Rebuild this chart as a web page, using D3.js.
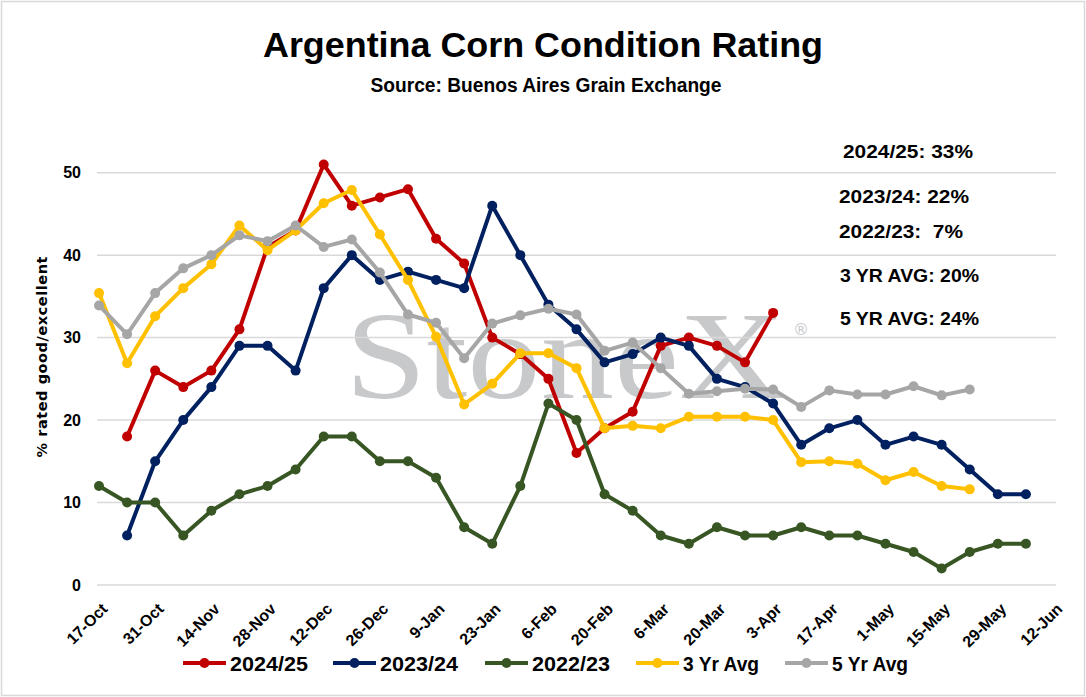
<!DOCTYPE html>
<html>
<head>
<meta charset="utf-8">
<script src="https://cdn.jsdelivr.net/npm/d3@7"></script>
<style>
  body { margin: 0; background: #fff; }
  svg { display: block; }
</style>
</head>
<body>
<div id="chart"></div>
<script>
// weekly report dates (17-Oct through 5-Jun)
var weeks = ["2024-10-17","2024-10-24","2024-10-31","2024-11-07","2024-11-14","2024-11-21",
  "2024-11-28","2024-12-05","2024-12-12","2024-12-19","2024-12-26","2025-01-02","2025-01-09",
  "2025-01-16","2025-01-23","2025-01-30","2025-02-06","2025-02-13","2025-02-20","2025-02-27",
  "2025-03-06","2025-03-13","2025-03-20","2025-03-27","2025-04-03","2025-04-10","2025-04-17",
  "2025-04-24","2025-05-01","2025-05-08","2025-05-15","2025-05-22","2025-05-29","2025-06-05"];

var s2425 = [null,18,26,24,26,31,41,43,51,46,47,48,42,39,30,28,25,16,19,21,29,30,29,27,33];
var s2324 = [null,6,15,20,24,29,29,26,36,40,37,38,37,36,46,40,34,31,27,28,30,29,25,24,22,17,19,20,17,18,17,14,11,11];
var s2223 = [12,10,10,6,9,11,12,14,18,18,15,15,13,7,5,12,22,20,11,9,6,5,7,6,6,7,6,6,5,4,2,4,5,5];
var avg3 = [35.4,26.9,32.6,36.0,38.9,43.6,40.6,43.0,46.3,47.9,42.5,37.0,30.1,21.9,24.4,28.1,28.1,26.3,
  19.0,19.3,19.0,20.4,20.4,20.4,20.0,14.9,15.0,14.7,12.7,13.7,12.0,11.6];
var avg5 = [33.9,30.4,35.4,38.4,40.0,42.4,41.7,43.6,41.0,41.9,37.9,32.8,31.8,27.5,31.7,32.7,33.5,32.8,
  28.4,29.4,26.3,23.2,23.5,23.8,23.7,21.6,23.6,23.1,23.1,24.1,23.0,23.7];

var seriesNames = ["2024/25","2023/24","2022/23","3 Yr Avg","5 Yr Avg"];
var seriesColors = ["#c00000","#002060","#375623","#ffc000","#a6a6a6"];
var seriesValues = [s2425, s2324, s2223, avg3, avg5];

var yTicks = [0,10,20,30,40,50];
var xTickLabels = ["17-Oct","31-Oct","14-Nov","28-Nov","12-Dec","26-Dec","9-Jan","23-Jan","6-Feb",
  "20-Feb","6-Mar","20-Mar","3-Apr","17-Apr","1-May","15-May","29-May","12-Jun"];
var xTickDates = ["2024-10-17","2024-10-31","2024-11-14","2024-11-28","2024-12-12","2024-12-26",
  "2025-01-09","2025-01-23","2025-02-06","2025-02-20","2025-03-06","2025-03-20","2025-04-03",
  "2025-04-17","2025-05-01","2025-05-15","2025-05-29","2025-06-12"];

var notes = ["2024/25: 33%","2023/24: 22%","2022/23:  7%","3 YR AVG: 20%","5 YR AVG: 24%"];

var svgWidth = 1086, svgHeight = 697;
var narrow = "'Liberation Sans', Arial, sans-serif";
var wide = "'DejaVu Sans', Verdana, sans-serif";

var parse = d3.timeParse("%Y-%m-%d");

var svg = d3.select("#chart").append("svg")
  .attr("width", svgWidth)
  .attr("height", svgHeight);

// chart border
svg.append("rect")
  .attr("x", 1.5).attr("y", 1.5)
  .attr("width", svgWidth - 3).attr("height", svgHeight - 3)
  .attr("fill", "#fff")
  .attr("stroke", "#d9d9d9")
  .attr("stroke-width", 1.5);

var x = d3.scaleTime()
  .domain([parse("2024-10-17"), parse("2025-06-12")])
  .range([99, 1054]);

var y = d3.scaleLinear()
  .domain([0, 50])
  .range([585, 172.7]);

// watermark
svg.append("text")
  .attr("x", 345).attr("y", 398)
  .attr("font-family", "'Liberation Serif', 'Times New Roman', serif")
  .attr("font-size", 124)
  .attr("fill", "#c8c9cb")
  .attr("textLength", 440)
  .attr("lengthAdjust", "spacingAndGlyphs")
  .text("StoneX");
svg.append("text")
  .attr("x", 793).attr("y", 335)
  .attr("font-family", "'DejaVu Sans', sans-serif")
  .attr("font-size", 16)
  .attr("fill", "#c8c9cb")
  .text("®");

// gridlines
svg.append("g")
  .selectAll("line")
  .data(yTicks)
  .enter()
  .append("line")
  .attr("x1", 97).attr("x2", 1056)
  .attr("y1", d => y(d)).attr("y2", d => y(d))
  .attr("stroke", "#d9d9d9")
  .attr("stroke-width", 1.5);

// y axis
var yAxis = d3.axisLeft(y).tickValues(yTicks).tickSize(0).tickPadding(0);
svg.append("g")
  .attr("transform", "translate(81,0)")
  .call(yAxis)
  .call(g => g.select(".domain").remove())
  .selectAll("text")
  .attr("font-family", narrow)
  .attr("font-weight", "bold")
  .attr("font-size", 16)
  .attr("fill", "#000");

// x axis labels
var xAxis = d3.axisBottom(x)
  .tickValues(xTickDates.map(parse))
  .tickFormat((d, i) => xTickLabels[i])
  .tickSize(0);
svg.append("g")
  .call(xAxis)
  .call(g => g.select(".domain").remove())
  .selectAll("text")
  .attr("font-family", narrow)
  .attr("font-weight", "bold")
  .attr("font-size", 16)
  .attr("fill", "#000")
  .attr("text-anchor", "end")
  .attr("dy", 0)
  .attr("y", 0)
  .attr("transform", "translate(9,610) rotate(-45)");

// y axis title
svg.append("text")
  .attr("transform", "translate(47,357) rotate(-90)")
  .attr("text-anchor", "middle")
  .attr("font-family", wide)
  .attr("font-weight", "bold")
  .attr("font-size", 14.5)
  .attr("textLength", 201)
  .text("% rated good/excellent");

// series
var line = d3.line()
  .defined(d => d.v != null)
  .x(d => x(d.date))
  .y(d => y(d.v));

seriesValues.forEach(function(vals, k) {
  var pts = vals.map((v, i) => ({ date: parse(weeks[i]), v: v }));
  var g = svg.append("g");
  g.append("path")
    .datum(pts)
    .attr("fill", "none")
    .attr("stroke", seriesColors[k])
    .attr("stroke-width", 4)
    .attr("stroke-linejoin", "round")
    .attr("d", line);
  g.selectAll("circle")
    .data(pts.filter(d => d.v != null))
    .enter()
    .append("circle")
    .attr("cx", d => x(d.date))
    .attr("cy", d => y(d.v))
    .attr("r", 5)
    .attr("fill", seriesColors[k]);
});

// title
svg.append("text")
  .attr("x", 543).attr("y", 57)
  .attr("text-anchor", "middle")
  .attr("font-family", narrow)
  .attr("font-weight", "bold")
  .attr("font-size", 35)
  .attr("textLength", 560)
  .attr("lengthAdjust", "spacingAndGlyphs")
  .text("Argentina Corn Condition Rating");

svg.append("text")
  .attr("x", 546).attr("y", 92)
  .attr("text-anchor", "middle")
  .attr("font-family", narrow)
  .attr("font-weight", "bold")
  .attr("font-size", 19.5)
  .attr("textLength", 351)
  .attr("lengthAdjust", "spacingAndGlyphs")
  .text("Source: Buenos Aires Grain Exchange");

// notes on the right
var noteX = [843, 839, 839, 840, 840];
var noteY = [158, 203, 238, 282, 325];
var noteW = [130, 130, 124, 139, 139];
svg.append("g")
  .selectAll("text")
  .data(notes)
  .enter()
  .append("text")
  .attr("x", (d, i) => noteX[i])
  .attr("y", (d, i) => noteY[i])
  .attr("font-family", narrow)
  .attr("font-weight", "bold")
  .attr("font-size", 18.5)
  .attr("textLength", (d, i) => noteW[i])
  .attr("lengthAdjust", "spacingAndGlyphs")
  .style("white-space", "pre")
  .text(d => d);

// legend
var legX = [183, 333, 485, 636, 785];
var legW = [78, 78, 78, 76, 76];
var leg = svg.append("g")
  .selectAll("g")
  .data(seriesNames)
  .enter()
  .append("g")
  .attr("transform", (d, i) => `translate(${legX[i]},663)`);
leg.append("line")
  .attr("x1", 0).attr("x2", 43)
  .attr("stroke", (d, i) => seriesColors[i])
  .attr("stroke-width", 4);
leg.append("circle")
  .attr("cx", 21.5).attr("r", 5)
  .attr("fill", (d, i) => seriesColors[i]);
leg.append("text")
  .attr("x", 47).attr("y", 7.5)
  .attr("font-family", narrow)
  .attr("font-weight", "bold")
  .attr("font-size", 21)
  .attr("textLength", (d, i) => legW[i])
  .attr("lengthAdjust", "spacingAndGlyphs")
  .text(d => d);
</script>
</body>
</html>
